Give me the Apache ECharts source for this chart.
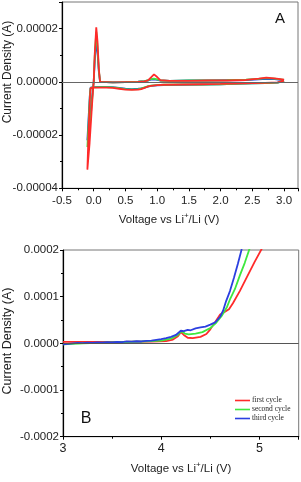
<!DOCTYPE html>
<html>
<head>
<meta charset="utf-8">
<script src="https://cdn.jsdelivr.net/npm/echarts@6/dist/echarts.min.js"></script>
<style>html,body{margin:0;padding:0;background:#fff;}#c{width:301px;height:482px;}</style>
</head>
<body>
<div id="c"></div>
<script>
// ---------- Panel A (cyclic voltammetry) ----------
const aXTicks = ['-0.5','0.0','0.5','1.0','1.5','2.0','2.5','3.0'];
const aYTicks = ['-0.00004','-0.00002','0.00000','0.00002'];
// cycle 1 (red)
const aV1 = [3.0,2.9,2.7,2.5,2.2,2.0,1.7,1.4,1.1,1.0,0.9,0.85,0.8,0.75,0.7,0.6,0.5,0.4,0.3,0.2,0.1,0.0,-0.05,-0.06,-0.08,-0.1,
             -0.065,-0.01,0.0,0.015,0.04,0.06,0.08,0.1,0.13,0.3,0.5,0.7,0.8,0.86,0.9,0.95,1.0,1.05,1.2,1.5,1.8,2.1,2.4,2.6,2.72,2.85,3.0];
const aI1 = [0.5e-6,-0.2e-6,-0.4e-6,-0.5e-6,-0.7e-6,-0.8e-6,-0.9e-6,-1.0e-6,-1.1e-6,-1.2e-6,-1.5e-6,-1.8e-6,-2.3e-6,-2.7e-6,-2.9e-6,-3.0e-6,-2.9e-6,-2.6e-6,-2.3e-6,-2.2e-6,-2.2e-6,-2.2e-6,-2.4e-6,-6e-6,-1.8e-5,-3.3e-5,
             -2.3e-5,-2.5e-6,0,1.0e-5,2.05e-5,1.5e-5,5e-6,0,-5e-7,-2e-7,-1e-7,0,2e-7,6e-7,1.6e-6,2.8e-6,1.8e-6,6e-7,4e-7,4e-7,5e-7,5e-7,7e-7,1.2e-6,1.6e-6,1.3e-6,8e-7];
// cycle 2 (green)
const aV2 = [3.0,2.9,2.7,2.5,2.2,2.0,1.7,1.4,1.1,1.0,0.9,0.85,0.8,0.75,0.7,0.6,0.5,0.4,0.3,0.2,0.1,0.0,-0.05,-0.06,-0.08,-0.1,
             -0.065,-0.01,0.0,0.015,0.04,0.06,0.08,0.1,0.13,0.3,0.5,0.7,0.8,0.86,0.9,0.95,1.0,1.05,1.2,1.5,1.8,2.1,2.4,2.6,2.72,2.85,3.0];
const aI2 = [0.4e-6,-0.3e-6,-0.5e-6,-0.6e-6,-0.8e-6,-0.9e-6,-1.0e-6,-1.0e-6,-1.1e-6,-1.2e-6,-1.4e-6,-1.7e-6,-2.1e-6,-2.5e-6,-2.7e-6,-2.8e-6,-2.7e-6,-2.4e-6,-2.1e-6,-2.0e-6,-2.0e-6,-2.1e-6,-2.3e-6,-5e-6,-1.5e-5,-2.45e-5,
             -1.8e-5,-2.3e-6,0,9e-6,1.88e-5,1.3e-5,4.5e-6,0,-4e-7,-2e-7,-1e-7,1e-7,3e-7,6e-7,1.0e-6,1.2e-6,9e-7,5e-7,4e-7,5e-7,5e-7,6e-7,8e-7,1.1e-6,1.4e-6,1.2e-6,7e-7];
// cycle 3 (blue)
const aV3 = [3.0,2.9,2.7,2.5,2.2,2.0,1.7,1.4,1.1,1.0,0.9,0.85,0.8,0.75,0.7,0.6,0.5,0.4,0.3,0.2,0.1,0.0,-0.05,-0.06,-0.08,-0.1,
             -0.07,-0.01,0.0,0.015,0.04,0.06,0.08,0.1,0.13,0.3,0.5,0.7,0.8,0.86,0.9,0.95,1.0,1.05,1.2,1.5,1.8,2.1,2.4,2.6,2.72,2.85,3.0];
const aI3 = [0.4e-6,-0.3e-6,-0.5e-6,-0.6e-6,-0.8e-6,-0.9e-6,-1.0e-6,-1.1e-6,-1.2e-6,-1.3e-6,-1.5e-6,-1.8e-6,-2.2e-6,-2.5e-6,-2.6e-6,-2.7e-6,-2.6e-6,-2.3e-6,-2.0e-6,-1.9e-6,-1.9e-6,-2.0e-6,-2.2e-6,-4.5e-6,-1.3e-5,-2.2e-5,
             -1.6e-5,-2.2e-6,0,7.5e-6,1.55e-5,1.1e-5,4e-6,0,-4e-7,-2e-7,-1e-7,1e-7,3e-7,5e-7,8e-7,9e-7,7e-7,5e-7,4e-7,5e-7,5e-7,6e-7,7e-7,9e-7,1.1e-6,1.0e-6,6e-7];

// ---------- Panel B (linear sweep) ----------
const bXTicks = ['3','4','5'];
const bYTicks = ['-0.0002','-0.0001','0.0000','0.0001','0.0002'];
const bV1 = [3.0,3.3,3.6,3.9,4.05,4.12,4.17,4.2,4.23,4.27,4.32,4.4,4.46,4.5,4.55,4.6,4.65,4.69,4.73,4.8,4.88,4.95,5.03];
const bI1 = [3e-6,3e-6,3e-6,4e-6,5e-6,8e-6,1.5e-5,2.4e-5,1.8e-5,1.2e-5,1.1e-5,1.4e-5,2.0e-5,3.0e-5,4.6e-5,6.2e-5,6.8e-5,7.3e-5,8.6e-5,1.12e-4,1.45e-4,1.74e-4,2.05e-4];
const bV2 = [3.0,3.2,3.5,3.8,4.0,4.1,4.17,4.21,4.24,4.28,4.35,4.42,4.5,4.56,4.62,4.67,4.7,4.75,4.8,4.85,4.9];
const bI2 = [-2e-6,0,2e-6,4e-6,6e-6,1.0e-5,1.8e-5,2.6e-5,2.1e-5,1.9e-5,2.1e-5,2.4e-5,3.3e-5,4.4e-5,6.0e-5,7.8e-5,9.4e-5,1.16e-4,1.45e-4,1.72e-4,2.03e-4];
const bV3 = [3.0,3.05,3.1,3.15,3.2,3.25,3.3,3.35,3.4,3.45,3.5,3.55,3.6,3.65,3.7,3.75,3.8,3.85,3.9,3.95,4.0,4.05,4.1,4.15,4.2,4.23,4.27,4.3,4.35,4.4,4.45,4.5,4.55,4.6,4.63,4.66,4.7,4.74,4.78,4.82];
const bI3 = [-2e-6,-1e-6,0,1e-6,0.5e-6,1.5e-6,1e-6,2e-6,1.5e-6,2.5e-6,2e-6,3e-6,2.5e-6,4e-6,3.5e-6,4.5e-6,4e-6,5.5e-6,6e-6,7.5e-6,9e-6,1.1e-5,1.4e-5,1.8e-5,2.7e-5,2.6e-5,2.9e-5,2.8e-5,3.2e-5,3.4e-5,3.6e-5,4.0e-5,4.5e-5,5.7e-5,7.0e-5,9.0e-5,1.12e-4,1.4e-4,1.7e-4,2.02e-4];

const cycleNames = ['first cycle','second cycle','third cycle'];
const colors = ['#ff2a2a','#3ee83e','#2b3fe0'];

function pairs(v, i){ return v.map((x,k)=>[x,i[k]]); }
const FONT = 'Liberation Sans';
const LW = 1.8;

const chart = echarts.init(document.getElementById('c'), null, {renderer:'canvas'});

const axisCommon = {
  axisLine:{show:true, onZero:false, lineStyle:{color:'#000', width:1.2}},
  axisTick:{show:true, length:3, lineStyle:{color:'#000'}},
  minorTick:{show:true, splitNumber:2, length:2, lineStyle:{color:'#000'}},
  splitLine:{show:false},
};

const option = {
  animation:false,
  backgroundColor:'#fff',
  grid:[
    {left:62, top:2, width:236, height:186.3, show:true, borderColor:'#777', borderWidth:1, containLabel:false},
    {left:63, top:250, width:235.7, height:186.7, show:true, borderColor:'#777', borderWidth:1, containLabel:false}
  ],
  xAxis:[
    Object.assign({}, axisCommon, {type:'value', gridIndex:0, min:-0.5, max:3.22, interval:0.5,
      axisLabel:{showMaxLabel:false, margin:7, fontFamily:FONT, fontSize:11.5, color:'#222',
        formatter: v => { const idx = Math.round((v+0.5)/0.5); return aXTicks[idx] || ''; }}}),
    Object.assign({}, axisCommon, {type:'value', gridIndex:1, min:3, max:5.4, interval:1,
      axisLabel:{showMaxLabel:false, margin:5, fontFamily:FONT, fontSize:12.5, color:'#222',
        formatter: v => { const idx = Math.round(v-3); return bXTicks[idx] || ''; }}})
  ],
  yAxis:[
    Object.assign({}, axisCommon, {type:'value', gridIndex:0, min:-0.00004, max:0.00003, interval:0.00002,
      axisLabel:{showMaxLabel:false, margin:4, fontFamily:FONT, fontSize:11.5, color:'#222',
        formatter: v => { const idx = Math.round((v+0.00004)/0.00002); return aYTicks[idx] || ''; }}}),
    Object.assign({}, axisCommon, {type:'value', gridIndex:1, min:-0.0002, max:0.0002, interval:0.0001,
      axisLabel:{margin:4, fontFamily:FONT, fontSize:11.5, color:'#222',
        formatter: v => { const idx = Math.round((v+0.0002)/0.0001); return bYTicks[idx] || ''; }}})
  ],
  legend:{
    data:cycleNames, orient:'vertical', left:230, top:391, itemWidth:15, itemHeight:1.6, itemGap:0,
    icon:'rect', selectedMode:false,
    textStyle:{fontFamily:'Liberation Serif', fontSize:7.5, lineHeight:9, color:'#222', padding:[0,0,0,-3]}
  },
  series:[
    {name:'A3', type:'line', xAxisIndex:0, yAxisIndex:0, data:pairs(aV3,aI3), showSymbol:false, clip:true,
      lineStyle:{color:colors[2], width:LW}, itemStyle:{color:colors[2]},
      markLine:{silent:true, symbol:'none', label:{show:false}, lineStyle:{color:'#666', width:1.2, type:'solid'}, data:[{yAxis:0}]}},
    {name:'A2', type:'line', xAxisIndex:0, yAxisIndex:0, data:pairs(aV2,aI2), showSymbol:false, clip:true,
      lineStyle:{color:colors[1], width:LW}, itemStyle:{color:colors[1]}},
    {name:'A1', type:'line', xAxisIndex:0, yAxisIndex:0, data:pairs(aV1,aI1), showSymbol:false, clip:true,
      lineStyle:{color:colors[0], width:LW}, itemStyle:{color:colors[0]}},
    {name:cycleNames[0], type:'line', xAxisIndex:1, yAxisIndex:1, data:pairs(bV1,bI1), showSymbol:false, clip:true,
      lineStyle:{color:colors[0], width:LW}, itemStyle:{color:colors[0]},
      markLine:{silent:true, symbol:'none', label:{show:false}, lineStyle:{color:'#555', width:1.2, type:'solid'}, data:[{yAxis:0}]}},
    {name:cycleNames[1], type:'line', xAxisIndex:1, yAxisIndex:1, data:pairs(bV2,bI2), showSymbol:false, clip:true,
      lineStyle:{color:colors[1], width:LW}, itemStyle:{color:colors[1]}},
    {name:cycleNames[2], type:'line', xAxisIndex:1, yAxisIndex:1, data:pairs(bV3,bI3), showSymbol:false, clip:true,
      lineStyle:{color:colors[2], width:LW}, itemStyle:{color:colors[2]}}
  ],
  graphic:[
    {type:'text', x:280, y:19, style:{text:'A', fontFamily:FONT, fontSize:15, fill:'#111', align:'center', verticalAlign:'middle'}},
    {type:'text', x:86, y:419, style:{text:'B', fontFamily:FONT, fontSize:16, fill:'#111', align:'center', verticalAlign:'middle'}},
    {type:'text', x:169, y:220, style:{text:'Voltage vs Li{sup|+}/Li (V)', fontFamily:FONT, fontSize:11.5, fill:'#222', align:'center', verticalAlign:'middle',
      rich:{sup:{fontFamily:FONT, fontSize:8, fill:'#222', padding:[0,0,8,0]}}}},
    {type:'text', x:181, y:469, style:{text:'Voltage vs Li{sup|+}/Li (V)', fontFamily:FONT, fontSize:11.5, fill:'#222', align:'center', verticalAlign:'middle',
      rich:{sup:{fontFamily:FONT, fontSize:8, fill:'#222', padding:[0,0,8,0]}}}},
    {type:'text', x:7.5, y:72, rotation:Math.PI/2, style:{text:'Current Density (A)', fontFamily:FONT, fontSize:12, fill:'#222', align:'center', verticalAlign:'middle'}},
    {type:'text', x:7.5, y:341, rotation:Math.PI/2, style:{text:'Current Density (A)', fontFamily:FONT, fontSize:12.5, fill:'#222', align:'center', verticalAlign:'middle'}}
  ]
};
chart.setOption(option);
</script>
</body>
</html>
